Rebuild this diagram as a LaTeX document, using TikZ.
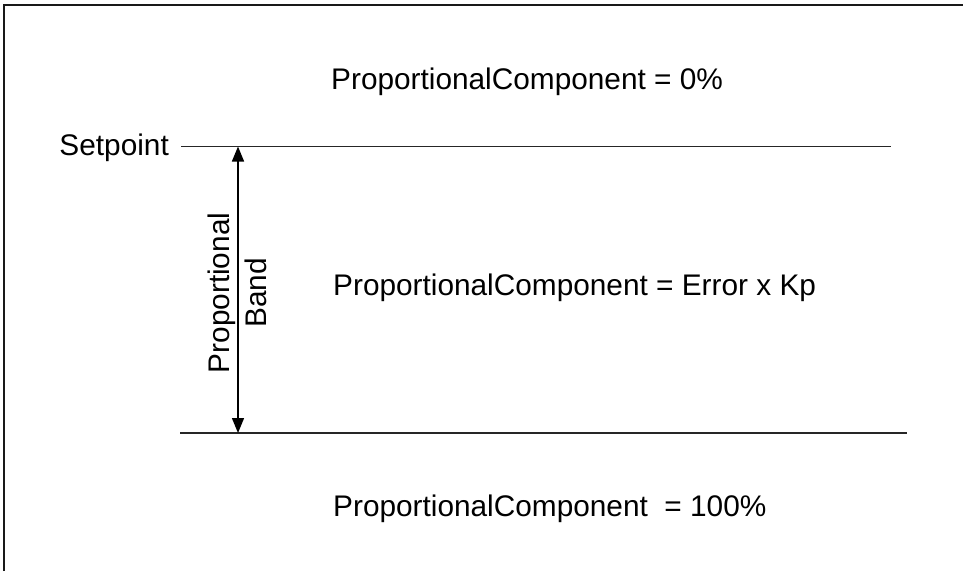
\documentclass[tikz,border=0pt]{standalone}
\usepackage{fontspec}
\setmainfont{Liberation Sans}
\usetikzlibrary{arrows.meta}
\begin{document}
\begin{tikzpicture}[x=1pt,y=-1pt,
  lbl/.style={inner sep=0pt, font=\fontsize{29.8}{37}\selectfont},
  rule/.style={line width=1.4pt, draw=black!85},
  frame/.style={line width=2pt, draw=black!90},
  tip/.style={Triangle[length=15pt,width=12pt]}]
\useasboundingbox (0,0) rectangle (963,571);
\draw[frame] (4,571) -- (4,5) -- (963,5);
\coordinate (s1) at (181,146.5);
\coordinate (s2) at (891,146.5);
\coordinate (b1) at (180,433);
\coordinate (b2) at (907,433);
\draw[rule] (s1) -- (s2);
\draw[rule] (b1) -- (b2);
\coordinate (a1) at (238,146.5);
\coordinate (a2) at (238,433);
\draw[line width=1.4pt, {Triangle[length=15pt,width=12pt]}-{Triangle[length=15pt,width=12pt]}] (a1) -- (a2);
\node[lbl, anchor=base east] (sp) at (169,155) {Setpoint};
\node[lbl, anchor=base west] (t0) at (331,89.5) {ProportionalComponent = 0\%};
\node[lbl, anchor=base west] (t1) at (333,295) {ProportionalComponent = Error x Kp};
\node[lbl, anchor=base west] (t2) at (333,516) {ProportionalComponent\ \ = 100\%};
\node[lbl, rotate=90, align=center] (pb) at (237,293) {Proportional\\Band};
\end{tikzpicture}
\end{document}
